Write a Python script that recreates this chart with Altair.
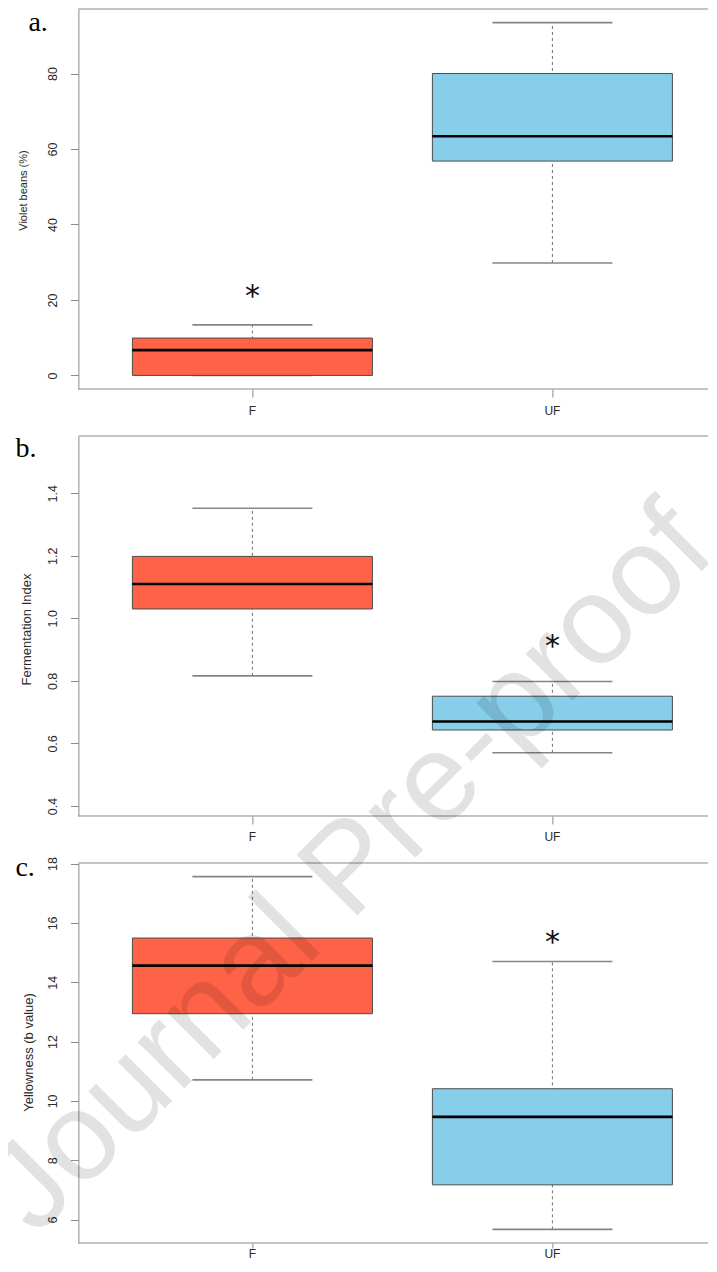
import altair as alt
import pandas as pd

# ---------------- data ----------------
categories = ["F", "UF"]
box_colors = ["#FF6347", "#87CEEB"]
panel_labels = ["a.", "b.", "c."]
y_titles = ["Violet beans (%)", "Fermentation Index", "Yellowness (b value)"]

# a. Violet beans (%)
violet_lower = [0.0, 29.8]
violet_q1 = [0.0, 56.8]
violet_median = [6.7, 63.4]
violet_q3 = [9.9, 80.0]
violet_upper = [13.4, 93.5]
violet_star = [21.9, None]
violet_ticks = [0, 20, 40, 60, 80]

# b. Fermentation index
ferm_lower = [0.816, 0.570]
ferm_q1 = [1.030, 0.643]
ferm_median = [1.110, 0.670]
ferm_q3 = [1.198, 0.751]
ferm_upper = [1.352, 0.798]
ferm_star = [None, 0.922]
ferm_ticks = [0.4, 0.6, 0.8, 1.0, 1.2, 1.4]

# c. Yellowness (b value)
yellow_lower = [10.71, 5.67]
yellow_q1 = [12.94, 7.17]
yellow_median = [14.56, 9.46]
yellow_q3 = [15.49, 10.41]
yellow_upper = [17.56, 14.70]
yellow_star = [None, 15.47]
yellow_ticks = [6, 8, 10, 12, 14, 16, 18]

watermark = ["Journal Pre-proof"]

# ---------------- style ----------------
W = 639
H = 380
XRANGE = 648
AX = "#8a8a8a"
TXT = "#2a2a2a"
FONT = "Liberation Sans"


def make_panel(lo, q1, med, q3, hi, star, domain, ticks, fmt, title, tsize, tx, ty,
               plabel, px, py, xtick, xpad, mark_watermark=False):
    box = pd.DataFrame({"group": categories, "lo": lo, "q1": q1, "med": med,
                        "q3": q3, "hi": hi, "fill": box_colors})
    stars = pd.DataFrame({"group": [c for c, s in zip(categories, star) if s is not None],
                          "y": [s for s in star if s is not None]})
    x = alt.X("group:N", sort=categories,
              scale=alt.Scale(domain=categories, range=[0, XRANGE],
                              paddingInner=0, paddingOuter=0.08),
              axis=alt.Axis(title=None, labelAngle=0, domain=False, tickSize=xtick,
                            tickColor=AX, labelPadding=xpad, labelFontSize=12,
                            labelFont=FONT, labelColor=TXT))
    yscale = alt.Scale(domain=domain, nice=False, zero=False)
    yaxis = alt.Axis(values=ticks, format=fmt, title=title, titleFontSize=tsize,
                     titleFont=FONT, titleFontWeight="normal", titleColor=TXT,
                     titleAngle=270, titleBaseline="middle", titleAlign="center",
                     titleX=tx, titleY=ty, labelAngle=270, labelAlign="center",
                     labelBaseline="bottom", labelPadding=11, tickSize=8,
                     tickColor=AX, domainColor=AX, labelFontSize=12.5,
                     labelFont=FONT, labelColor=TXT, grid=False)
    base = alt.Chart(box)
    whisker = base.mark_rule(color="#6e6e6e", strokeDash=[3, 3], strokeWidth=1).encode(
        x=x, y=alt.Y("lo:Q", scale=yscale, axis=yaxis), y2="hi:Q")
    cap_lo = base.mark_tick(size=120, thickness=1.6, color="#858585", opacity=1).encode(
        x=x, y=alt.Y("lo:Q", scale=yscale))
    cap_hi = base.mark_tick(size=120, thickness=1.6, color="#858585", opacity=1).encode(
        x=x, y=alt.Y("hi:Q", scale=yscale))
    boxes = base.mark_bar(size=240, stroke="#4a4a4a", strokeWidth=1, opacity=1).encode(
        x=x, y=alt.Y("q1:Q", scale=yscale), y2="q3:Q",
        color=alt.Color("fill:N", scale=None))
    median = base.mark_tick(size=240, thickness=2.6, color="black", opacity=1).encode(
        x=x, y=alt.Y("med:Q", scale=yscale))
    star_layer = alt.Chart(stars).mark_text(text="*", font="DejaVu Sans", fontSize=30,
                                            color="#111", baseline="alphabetic",
                                            align="center", dy=13).encode(
        x=x, y=alt.Y("y:Q", scale=yscale))
    one = pd.DataFrame({"lab": [plabel]})
    top_line = alt.Chart(one).mark_rule(color=AX, strokeWidth=1).encode(
        x=alt.value(0), x2=alt.value(W), y=alt.value(0))
    bottom_line = alt.Chart(one).mark_rule(color=AX, strokeWidth=1).encode(
        x=alt.value(0), x2=alt.value(W), y=alt.value(H))
    lab = alt.Chart(one).mark_text(font="Liberation Serif", fontSize=28, color="black",
                                   align="left", baseline="alphabetic").encode(
        text="lab:N", x=alt.value(px), y=alt.value(py))
    layers = [whisker, cap_lo, cap_hi, boxes, median, star_layer, top_line, bottom_line, lab]
    if mark_watermark:
        wm = alt.Chart(pd.DataFrame({"t": watermark})).mark_text(
            font=FONT, fontSize=125, color="black", opacity=0.11, angle=315,
            align="center", baseline="middle").encode(
            text="t:N", x=alt.value(272), y=alt.value(6))
        layers.append(wm)
    return alt.layer(*layers).properties(width=W, height=H)


pa = make_panel(violet_lower, violet_q1, violet_median, violet_q3, violet_upper, violet_star,
                [-3.6, 97.1], violet_ticks, "d", y_titles[0], 11, -55, 181,
                panel_labels[0], -50, 22, 8, 8)
pb = make_panel(ferm_lower, ferm_q1, ferm_median, ferm_q3, ferm_upper, ferm_star,
                [0.368, 1.583], ferm_ticks, ".1f", y_titles[1], 13, -52, 193,
                panel_labels[1], -63, 21, 8, 8)
pc = make_panel(yellow_lower, yellow_q1, yellow_median, yellow_q3, yellow_upper, yellow_star,
                [5.21, 18.02], yellow_ticks, "d", y_titles[2], 13, -50, 189,
                panel_labels[2], -63, 13, 5, 1, mark_watermark=True)

chart = alt.vconcat(pa, pb, pc, spacing=47, bounds="flush").properties(
    padding={"left": -43.6, "top": 0, "right": -28, "bottom": 0}
).configure_view(stroke=None)

chart.save("out.html", embed_options={"renderer": "svg", "actions": False})
